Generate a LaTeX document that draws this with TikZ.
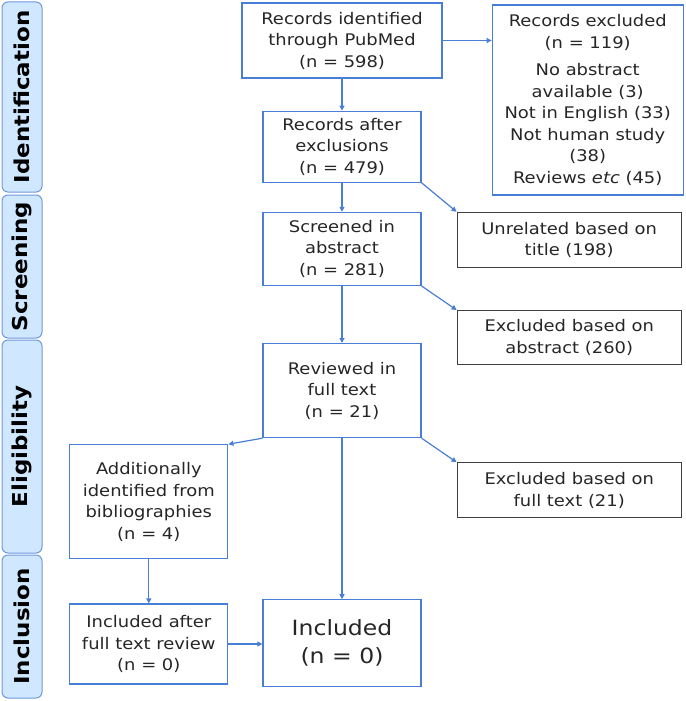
\documentclass[tikz,border=0pt]{standalone}
\usepackage{fontspec}
\setmainfont{DejaVu Sans}[FakeStretch=1.12]
\usetikzlibrary{positioning, arrows.meta}
\definecolor{prismablue}{RGB}{72,126,214}
\definecolor{phasefill}{RGB}{207,231,255}
\definecolor{phaseline}{RGB}{112,152,222}
\definecolor{textgray}{RGB}{38,38,38}
\tikzset{
x=1pt, y=-1pt, % pixel-like units, y runs downwards
>={Triangle[length=5pt, width=5pt]}, % small filled arrow heads
every node/.style={font=\fontsize{16}{21.5}\selectfont, text=textgray},
stage/.style={draw=prismablue, line width=1.2pt, align=center, inner sep=2pt}, % records kept
dropped/.style={draw=black!75, line width=1.2pt, align=center, inner sep=2pt}, % records removed
phase/.style={draw=phaseline, fill=phasefill, rounded corners=6pt, line width=1pt, rotate=90,
  minimum height=40pt, font=\bfseries\fontsize{20.5}{24}\selectfont, text=black}, % side labels
flow/.style={->, draw=prismablue, line width=1.2pt},
}

\begin{document}
\begin{tikzpicture}
    \useasboundingbox (0,0) rectangle (685,701);

    % phases on the left
    \node[phase, minimum width=190pt] (ident) at (22,97) {Identification};
    \node[phase, minimum width=143pt] (screen) at (22,266.5) {Screening};
    \node[phase, minimum width=213pt] (elig) at (22,446.5) {Eligibility};
    \node[phase, minimum width=143pt] (incl) at (22,626.5) {Inclusion};

    % main column
    \node[stage, minimum width=200pt, minimum height=75pt] (pubmed) at (342,40.5)
        {Records identified\\through PubMed\\(n = 598)};
    \node[stage, minimum width=158pt, minimum height=71pt, below=32pt of pubmed] (after)
        {Records after\\exclusions\\(n = 479)};
    \node[stage, minimum width=158pt, minimum height=73pt, below=29pt of after] (screened)
        {Screened in\\abstract\\(n = 281)};
    \node[stage, minimum width=158pt, minimum height=94pt, below=57pt of screened] (reviewed)
        {Reviewed in\\full text\\(n = 21)};
    \node[stage, minimum width=158pt, minimum height=87pt, below=161pt of reviewed,
        font=\fontsize{21}{28}\selectfont] (included) {Included\\(n = 0)};

    % exclusions on the right
    \node[stage, minimum width=191pt, minimum height=190pt, right=49pt of pubmed.north east,
        anchor=north west, yshift=-2pt] (excluded)
        {Records excluded\\(n = 119)\\[6pt]No abstract\\available (3)\\Not in English (33)\\Not human study\\(38)\\Reviews \textit{etc} (45)};
    \node[dropped, minimum width=224pt, minimum height=55pt, right=35pt of screened.north east,
        anchor=north west] (unrelated) {Unrelated based on\\title (198)};
    \node[dropped, minimum width=224pt, minimum height=54pt, below=42pt of unrelated] (exabstract)
        {Excluded based on\\abstract (260)};
    \node[dropped, minimum width=224pt, minimum height=55pt, below=97pt of exabstract] (exfulltext)
        {Excluded based on\\full text (21)};

    % extra records on the left
    \node[stage, minimum width=158pt, minimum height=114pt, below left=6pt and 34pt of reviewed.south west]
        (biblio) {Additionally\\identified from\\bibliographies\\(n = 4)};
    \node[stage, minimum width=158pt, minimum height=80pt, below=44pt of biblio] (inclafter)
        {Included after\\full text review\\(n = 0)};

    \draw[flow] (pubmed) -- (after);
    \draw[flow] (pubmed.east) -- (pubmed.east -| excluded.west);
    \draw[flow] (after) -- (screened);
    \draw[flow] (after.south east) -- (unrelated.north west);
    \draw[flow] (screened) -- (reviewed);
    \draw[flow] (screened.south east) -- (exabstract.north west);
    \draw[flow] (reviewed.south west) -- (biblio.north east);
    \draw[flow] (reviewed.south east) -- (exfulltext.north west);
    \draw[flow] (reviewed) -- (included);
    \draw[flow] (biblio) -- (inclafter);
    \draw[flow] (inclafter.east) -- (inclafter.east -| included.west);
\end{tikzpicture}
\end{document}
